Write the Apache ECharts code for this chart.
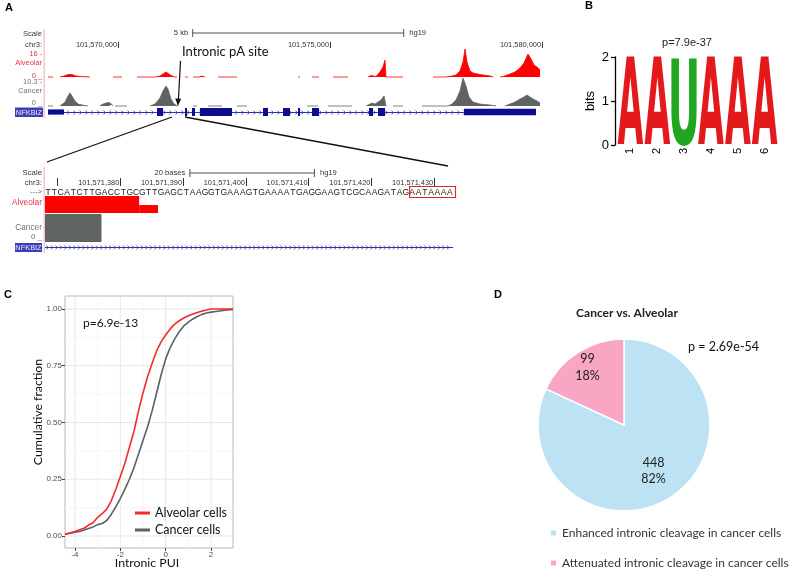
<!DOCTYPE html>
<html><head><meta charset="utf-8">
<script src="https://cdn.jsdelivr.net/npm/echarts@6/dist/echarts.min.js"></script>
<style>html,body{margin:0;padding:0;background:#fff}#c{width:792px;height:571px}</style>
</head><body><div id="c"></div>
<script>
// ===== Panel A (top): signal tracks, positions in kb relative to chr3:101,570,000 =====
const topOrigin = 101570000;
const topTickKb = [0, 5, 10];
const topMinKb = -1.7217, topMaxKb = 10.0;
const scaleBarTop = [1.75, 6.75];           // 5 kb
const alveolarTrack = [
 [[-1.651,0],[-1.533,0]],
 [[-1.368,0],[-1.274,0.7],[-1.179,1.7],[-1.132,2.1],[-1.085,1.7],[-0.991,0.7],[-0.896,0.35],[-0.660,0]],
 [[-0.118,0],[0.094,0]],
 [[0.448,0],[0.873,0],[0.991,0.7],[1.061,2.1],[1.132,3.5],[1.179,2.8],[1.250,1.0],[1.344,0],[1.392,0]],
 [[1.580,0],[1.651,0]],
 [[1.769,0],[1.910,0],[1.981,0.7],[2.052,0]],
 [[2.359,0],[2.807,0]],
 [[4.245,0],[4.292,0]],
 [[4.575,0],[4.741,0]],
 [[5.071,0],[5.424,0]],
 [[5.896,0],[5.967,1.0],[6.014,0.7],[6.085,0.35],[6.132,1.4],[6.179,3.5],[6.250,7],[6.297,11.8],[6.321,0],[6.722,0]],
 [[7.429,0],[7.712,0],[7.830,0.35],[7.972,1.4],[8.066,4.2],[8.137,10.4],[8.184,19.5],[8.231,10.4],[8.302,4.2],[8.373,2.8],[8.538,1.7],[8.774,0.7],[8.845,0]],
 [[9.009,0],[9.080,0.3],[9.245,2.1],[9.363,3.5],[9.481,6.3],[9.575,9.7],[9.670,16],[9.741,12.5],[9.811,8.4],[9.882,7],[9.953,4.9]]
];
const cancerTrack = [
 [[-1.651,0],[-1.533,0]],
 [[-1.368,0],[-1.321,0.4],[-1.250,1.6],[-1.179,4.1],[-1.132,5.4],[-1.085,4.1],[-1.014,2.1],[-0.943,0.8],[-0.849,0.4],[-0.708,0]],
 [[-0.425,0],[-0.377,0.6],[-0.283,1.2],[-0.212,1.4],[-0.142,0.6],[-0.118,0]],
 [[-0.071,0],[0.212,0]],
 [[0.755,0],[0.873,0.8],[0.991,3.3],[1.061,6.2],[1.132,8.2],[1.179,7.0],[1.250,2.9],[1.321,0.8],[1.415,0]],
 [[1.769,0],[1.863,0]],
 [[2.123,0],[2.453,0]],
 [[2.807,0],[3.042,0]],
 [[4.458,0],[4.717,0]],
 [[4.953,0],[5.519,0]],
 [[5.849,0],[5.943,0.8],[5.991,1.2],[6.061,0.8],[6.132,1.6],[6.203,2.5],[6.274,4.1],[6.297,4.9],[6.321,0]],
 [[6.486,0],[6.722,0]],
 [[7.170,0],[7.783,0],[7.877,0.8],[7.972,2.5],[8.066,6.2],[8.137,11.5],[8.208,8.2],[8.278,3.7],[8.373,1.6],[8.538,0.8],[8.774,0.4],[8.915,0]],
 [[9.127,0],[9.245,0.8],[9.363,1.6],[9.481,2.9],[9.575,3.7],[9.646,4.5],[9.717,3.7],[9.788,2.9],[9.882,2.1],[9.953,1.2]]
];
const geneSpan = [-1.651, 9.858];
// [start, end, thickness (1 = coding, <1 = UTR)]
const geneExons = [[-1.651,-1.274,0.65],[0.920,1.061,1],[1.580,1.627,1],[1.745,1.816,1],[1.934,2.689,1],[3.420,3.538,1],[3.892,4.057,1],[4.245,4.292,1],[4.575,4.741,1],[5.920,6.014,1],[6.132,6.297,1],[8.160,9.858,0.8]];

// ===== Panel A (zoom): base-level view =====
const zoomMin = 101571368, zoomMax = 101571433;
const zoomSeq = 'TTCATCTTGACCTGCGTTGAGCTAAGGTGAAAGTGAAAATGAGGAAGTCGCAAGATAGAATAAAA';
const zoomTicks = [101571370,101571380,101571390,101571400,101571410,101571420,101571430];
const zoomTickLabels = [101571380,101571390,101571400,101571410,101571420,101571430];
const scaleBarZoom = [101571391, 101571411];   // 20 bases
const alveolarZoom = [[101571368,101571383,16],[101571383,101571386,7.5]];
const cancerZoom = [[101571368,101571377,10]];
const polyABox = [[101571426, 101571433]];

// ===== Panel B: sequence logo =====
const logoPositions = ['1','2','3','4','5','6'];
const logoLetters = ['A','A','U','A','A','A'];
const logoBits = [2,2,2,2,2,2];

// ===== Panel C: cumulative distributions =====
const cdfAlveolar = [[-4.44,0.008],[-4.2,0.014],[-4.0,0.02],[-3.8,0.027],[-3.6,0.034],[-3.4,0.048],[-3.2,0.058],[-3.0,0.082],[-2.8,0.098],[-2.6,0.118],[-2.4,0.155],[-2.2,0.205],[-2.0,0.262],[-1.8,0.32],[-1.6,0.39],[-1.4,0.46],[-1.2,0.55],[-1.0,0.63],[-0.8,0.70],[-0.6,0.76],[-0.4,0.815],[-0.2,0.855],[0.0,0.885],[0.2,0.912],[0.4,0.933],[0.6,0.948],[0.8,0.96],[1.0,0.97],[1.2,0.978],[1.5,0.988],[1.8,0.995],[2.0,1.0],[2.97,1.0]];
const cdfCancer = [[-4.44,0.008],[-4.2,0.012],[-4.0,0.016],[-3.8,0.02],[-3.6,0.026],[-3.4,0.033],[-3.2,0.04],[-3.0,0.05],[-2.8,0.055],[-2.6,0.068],[-2.4,0.095],[-2.2,0.128],[-2.0,0.165],[-1.8,0.205],[-1.6,0.25],[-1.4,0.30],[-1.2,0.36],[-1.0,0.42],[-0.8,0.48],[-0.6,0.55],[-0.4,0.63],[-0.2,0.71],[0.0,0.78],[0.2,0.83],[0.4,0.868],[0.6,0.9],[0.8,0.925],[1.0,0.942],[1.2,0.956],[1.4,0.967],[1.6,0.976],[1.8,0.982],[2.0,0.986],[2.3,0.99],[2.6,0.994],[2.97,0.998]];
const cdfSeriesNames = ['Alveolar cells','Cancer cells'];
const cdfXTicks = [-4,-2,0,2], cdfXMinor = [-3,-1,1];
const cdfYTicks = [0,0.25,0.5,0.75,1], cdfYMinor = [0.125,0.375,0.625,0.875];

// ===== Panel D: pie =====
const pieCategories = ['Enhanced intronic cleavage in cancer cells','Attenuated intronic cleavage in cancer cells'];
const pieCounts = [448, 99];
const piePercents = ['82%','18%'];

// ---------------------------------------------------------------
const SANS = '"Liberation Sans", Arial, sans-serif';
const LATO = 'Lato, "Open Sans", sans-serif';
const RED = '#ff0000', GRAY = '#5f6462', GENE = '#0d0d8f', GENE_LINE = '#3030b0';
const ALV_LABEL = '#e8304a', CAN_LABEL = '#707070';

function flat(segs){ const out=[]; segs.forEach(s=>{ s.forEach(p=>out.push(p)); out.push([s[s.length-1][0]+0.0001, null]); }); return out; }

function T(text, x, y, o){ o=o||{};
  const al=o.align||'left', va=o.va||'middle';
  const el = {type:'text', silent:true, z:50, style:{text, x, y, font:o.font||((o.size||8)+'px '+(o.family||SANS)), fill:o.fill||'#333', align:al, textAlign:al, verticalAlign:va, textVerticalAlign:va}};
  if (o.rot) { el.x = x; el.y = y; el.rotation = o.rot; el.style.x = 0; el.style.y = 0; }
  return el;
}
function Lp(x1,y1,x2,y2,st){ return {type:'line', silent:true, z:40, shape:{x1,y1,x2,y2}, style:Object.assign({stroke:'#111', lineWidth:1.3}, st||{})}; }

// glyph metrics for logo letters
const LOGO_FONT = 'bold 100px "DejaVu Sans", "Liberation Sans", sans-serif';
const mctx = document.createElement('canvas').getContext('2d');
mctx.font = LOGO_FONT; mctx.textAlign='center'; mctx.textBaseline='middle';
function glyphBox(ch){ const m = mctx.measureText(ch); return {l:m.actualBoundingBoxLeft, r:m.actualBoundingBoxRight, a:m.actualBoundingBoxAscent, d:m.actualBoundingBoxDescent}; }
const logoColor = {A:'#e3191c', U:'#21a621', C:'#1f3fd0', G:'#f0a000'};

function scaleBarRender(yPix, leftLabel, rightLabel, fontPx){
  return function(params, api){
    const a = api.coord([api.value(0), 0])[0], b = api.coord([api.value(1), 0])[0];
    const st = {stroke:'#555', lineWidth:1};
    const f = fontPx+'px '+SANS;
    return {type:'group', children:[
      {type:'line', shape:{x1:a,y1:yPix,x2:b,y2:yPix}, style:st},
      {type:'line', shape:{x1:a+0.5,y1:yPix-4,x2:a+0.5,y2:yPix+4}, style:st},
      {type:'line', shape:{x1:b-0.5,y1:yPix-4,x2:b-0.5,y2:yPix+4}, style:st},
      {type:'text', style:{text:leftLabel, x:a-4, y:yPix, align:'right', textAlign:'right', verticalAlign:'middle', textVerticalAlign:'middle', font:f, fill:'#333'}},
      {type:'text', style:{text:rightLabel, x:b+5, y:yPix, align:'left', textAlign:'left', verticalAlign:'middle', textVerticalAlign:'middle', font:f, fill:'#333'}}
    ]};
  };
}
function intronRender(spacing){
  return function(params, api){
    const s = api.coord([api.value(0), 0.5]), e = api.coord([api.value(1), 0.5]);
    const y = Math.round(s[1])+0.5;
    const ch = [{type:'line', shape:{x1:s[0],y1:y,x2:e[0],y2:y}, style:{stroke:GENE_LINE, lineWidth:1}}];
    for (let x = s[0]+3; x < e[0]-1; x += spacing) {
      ch.push({type:'polyline', shape:{points:[[x-1.6,y-2],[x+0.4,y],[x-1.6,y+2]]}, style:{stroke:GENE_LINE, fill:null, lineWidth:0.8}});
    }
    return {type:'group', children:ch};
  };
}
function barRender(fill){
  return function(params, api){
    const a = api.coord([api.value(0), api.value(2)]), b = api.coord([api.value(1), 0]);
    return {type:'rect', shape:{x:a[0], y:a[1], width:b[0]-a[0], height:b[1]-a[1]}, style:{fill}};
  };
}

const gridBase = {outerBoundsMode:'none', containLabel:false};
const grids = [
 {left:45, top:54, width:497, height:23},
 {left:45, top:81, width:497, height:25},
 {left:45, top:108, width:497, height:8},
 {left:45, top:196, width:408, height:17},
 {left:45, top:214, width:408, height:28},
 {left:45, top:243, width:408, height:8},
 {left:45, top:186, width:408, height:12},
 {left:617, top:57, width:161, height:88},
 {left:65, top:296, width:168, height:252, show:true, borderColor:'#b8b8b8', borderWidth:1, backgroundColor:'#fff'}
].map(g=>Object.assign({}, gridBase, g));

const hiddenX = (i, min, max) => ({gridIndex:i, type:'value', min, max, show:false});
const hiddenY = (i, min, max) => ({gridIndex:i, type:'value', min, max, show:false});

const option = {
 animation:false,
 backgroundColor:'#fff',
 grid: grids,
 xAxis: [
  {gridIndex:0, type:'value', min:topMinKb, max:topMaxKb, position:'top', offset:6,
   axisLine:{show:false, onZero:false}, splitLine:{show:false},
   axisTick:{show:true, customValues:topTickKb, length:6, lineStyle:{color:'#333', width:1}},
   axisLabel:{show:true, customValues:topTickKb, formatter:v=>Math.round(topOrigin+v*1000).toLocaleString('en-US'),
     fontFamily:SANS, fontSize:7.4, color:'#333', align:'right', verticalAlign:'middle', margin:3, padding:[0,1,0,0]}},
  hiddenX(1, topMinKb, topMaxKb),
  hiddenX(2, topMinKb, topMaxKb),
  hiddenX(3, zoomMin, zoomMax),
  hiddenX(4, zoomMin, zoomMax),
  hiddenX(5, zoomMin, zoomMax),
  {gridIndex:6, type:'value', min:zoomMin, max:zoomMax, position:'top',
   axisLine:{show:false, onZero:false}, splitLine:{show:false},
   axisTick:{show:true, customValues:zoomTicks, length:8, lineStyle:{color:'#333', width:1}},
   axisLabel:{show:true, customValues:zoomTickLabels, formatter:v=>Math.round(v).toLocaleString('en-US'),
     fontFamily:SANS, fontSize:7.4, color:'#333', align:'right', verticalAlign:'middle', margin:3, padding:[0,1,0,0]}},
  {gridIndex:7, type:'category', data:logoPositions, boundaryGap:true,
   axisLine:{show:false, onZero:false}, axisTick:{show:false}, splitLine:{show:false},
   axisLabel:{rotate:90, fontFamily:SANS, fontSize:11, color:'#000', margin:3}},
  {gridIndex:8, type:'value', min:-4.44, max:2.97,
   axisLine:{show:false, onZero:false}, splitLine:{show:false},
   axisTick:{show:true, customValues:cdfXTicks, length:3, lineStyle:{color:'#444'}},
   axisLabel:{show:true, customValues:cdfXTicks, fontFamily:SANS, fontSize:8, color:'#4d4d4d', margin:3}}
 ],
 yAxis: [
  hiddenY(0, 0, 16), hiddenY(1, 0, 10.3), hiddenY(2, 0, 1), hiddenY(3, 0, 16), hiddenY(4, 0, 10), hiddenY(5, 0, 1), hiddenY(6, 0, 1),
  {gridIndex:7, type:'value', min:0, max:2, interval:1, offset:2,
   axisLine:{show:true, onZero:false, lineStyle:{color:'#000', width:1.3}}, splitLine:{show:false},
   axisTick:{show:true, length:4, lineStyle:{color:'#000', width:1.3}},
   axisLabel:{fontFamily:SANS, fontSize:13, color:'#000', margin:6},
   name:'bits', nameLocation:'middle', nameGap:18, nameRotate:90,
   nameTextStyle:{fontFamily:SANS, fontSize:13, color:'#000'}},
  {gridIndex:8, type:'value', min:-0.053, max:1.057,
   axisLine:{show:false, onZero:false}, splitLine:{show:false},
   axisTick:{show:true, customValues:cdfYTicks, length:3, lineStyle:{color:'#444'}},
   axisLabel:{show:true, customValues:cdfYTicks, formatter:v=>v.toFixed(2), fontFamily:SANS, fontSize:8, color:'#4d4d4d', margin:3}}
 ],
 legend: [
  {data:cdfSeriesNames, left:135, top:506, orient:'vertical', icon:'rect', itemWidth:15, itemHeight:3, itemGap:3, padding:0,
   selectedMode:false, textStyle:{fontFamily:LATO, fontSize:12.5, color:'#111', lineHeight:14}},
  {data:pieCategories, left:549, top:526, orient:'vertical', icon:'rect', itemWidth:7, itemHeight:7, itemGap:16, padding:0,
   selectedMode:false, textStyle:{fontFamily:LATO, fontSize:12, color:'#333', lineHeight:14}}
 ],
 series: [
  {type:'line', name:'alv-top', xAxisIndex:0, yAxisIndex:0, data:flat(alveolarTrack), symbol:'none', clip:false, silent:true, connectNulls:false,
   lineStyle:{width:0.8, color:RED}, areaStyle:{color:RED, opacity:1}, z:3},
  {type:'line', name:'can-top', xAxisIndex:1, yAxisIndex:1, data:flat(cancerTrack), symbol:'none', clip:false, silent:true, connectNulls:false,
   lineStyle:{width:0.8, color:GRAY}, areaStyle:{color:GRAY, opacity:1}, z:3},
  {type:'custom', xAxisIndex:2, yAxisIndex:2, data:[geneSpan], renderItem:intronRender(6), silent:true, z:3},
  {type:'custom', xAxisIndex:2, yAxisIndex:2, data:geneExons, silent:true, z:4,
   renderItem:function(params, api){
     const h = api.value(2);
     const a = api.coord([api.value(0), 0.5+h/2]), b = api.coord([api.value(1), 0.5-h/2]);
     return {type:'rect', shape:{x:a[0], y:a[1], width:Math.max(1.5,b[0]-a[0]), height:b[1]-a[1]}, style:{fill:GENE}};
   }},
  {type:'custom', xAxisIndex:0, yAxisIndex:0, data:[scaleBarTop], renderItem:scaleBarRender(33, '5 kb', 'hg19', 7.6), silent:true, z:5},
  {type:'custom', xAxisIndex:3, yAxisIndex:3, data:alveolarZoom, renderItem:barRender(RED), silent:true},
  {type:'custom', xAxisIndex:4, yAxisIndex:4, data:cancerZoom, renderItem:barRender(GRAY), silent:true},
  {type:'custom', xAxisIndex:5, yAxisIndex:5, data:[[zoomMin, zoomMax]], renderItem:intronRender(4.5), silent:true},
  {type:'custom', xAxisIndex:6, yAxisIndex:6, silent:true,
   data:zoomSeq.split('').map((ch,i)=>[zoomMin+i+0.5, 0.5, i]),
   renderItem:function(params, api){
     const c = api.coord([api.value(0), api.value(1)]);
     return {type:'text', style:{text:zoomSeq[api.value(2)], x:c[0], y:c[1]+0.5, align:'center', textAlign:'center', verticalAlign:'middle', textVerticalAlign:'middle', font:'8.5px '+SANS, fill:'#222'}};
   }},
  {type:'custom', xAxisIndex:6, yAxisIndex:6, data:polyABox, silent:true,
   renderItem:function(params, api){
     const a = api.coord([api.value(0), 1]), b = api.coord([api.value(1), 0]);
     return {type:'rect', shape:{x:a[0]+0.5, y:a[1]+0.5, width:b[0]-a[0]+2, height:b[1]-a[1]-1}, style:{fill:null, stroke:'#d42a2a', lineWidth:1.2}};
   }},
  {type:'custom', xAxisIndex:6, yAxisIndex:6, data:[scaleBarZoom], renderItem:scaleBarRender(173, '20 bases', 'hg19', 7.6), silent:true},
  {type:'custom', xAxisIndex:7, yAxisIndex:7, silent:true, data:logoBits.map((b,i)=>[i,b]),
   renderItem:function(params, api){
     const letter = logoLetters[params.dataIndex];
     const c0 = api.coord([api.value(0), 0]), c1 = api.coord([api.value(0), api.value(1)]);
     const bw = api.size([1,0])[0];
     const x0 = c0[0]-bw/2+0.6, x1 = c0[0]+bw/2-0.6, y0 = c1[1], y1 = c0[1];
     const g = glyphBox(letter);
     const sx = (x1-x0)/(g.l+g.r), sy = (y1-y0)/(g.a+g.d);
     return {type:'text', x:x0+g.l*sx, y:y0+g.a*sy, scaleX:sx, scaleY:sy,
       style:{text:letter, x:0, y:0, align:'center', textAlign:'center', verticalAlign:'middle', textVerticalAlign:'middle', font:LOGO_FONT, fill:logoColor[letter]}};
   }},
  {type:'custom', xAxisIndex:8, yAxisIndex:8, silent:true, z:1,
   data:[].concat(cdfXTicks.map(v=>[v,0,1]), cdfXMinor.map(v=>[v,0,0]), cdfYTicks.map(v=>[v,1,1]), cdfYMinor.map(v=>[v,1,0])),
   renderItem:function(params, api){
     const cs = params.coordSys, v = api.value(0), dir = api.value(1), major = api.value(2);
     const st = {stroke: major ? '#e4e4e4' : '#f2f2f2', lineWidth: major ? 0.9 : 0.7};
     if (dir === 0) { const x = api.coord([v, 0])[0]; return {type:'line', shape:{x1:x,y1:cs.y,x2:x,y2:cs.y+cs.height}, style:st}; }
     const y = api.coord([0, v])[1]; return {type:'line', shape:{x1:cs.x,y1:y,x2:cs.x+cs.width,y2:y}, style:st};
   }},
  {type:'line', name:cdfSeriesNames[0], xAxisIndex:8, yAxisIndex:8, data:cdfAlveolar, symbol:'none', silent:true, z:3,
   lineStyle:{width:1.6, color:'#f42a2a'}, itemStyle:{color:'#f42a2a'}},
  {type:'line', name:cdfSeriesNames[1], xAxisIndex:8, yAxisIndex:8, data:cdfCancer, symbol:'none', silent:true, z:2,
   lineStyle:{width:1.6, color:'#596163'}, itemStyle:{color:'#596163'}},
  {type:'pie', center:[624,425], radius:86, startAngle:90, clockwise:true, silent:true,
   label:{show:false}, labelLine:{show:false}, emphasis:{disabled:true},
   itemStyle:{borderColor:'#fff', borderWidth:1.5},
   data:[{name:pieCategories[0], value:pieCounts[0], itemStyle:{color:'#bce2f4'}},
         {name:pieCategories[1], value:pieCounts[1], itemStyle:{color:'#f9a6c4'}}]},
  {type:'pie', center:[624,425], radius:[0,104], startAngle:90, clockwise:true, silent:true, z:5,
   itemStyle:{color:'rgba(0,0,0,0)'}, labelLine:{show:false}, emphasis:{disabled:true},
   label:{show:true, position:'inside', formatter:p=>pieCounts[p.dataIndex]+'\n'+piePercents[p.dataIndex], fontFamily:LATO, fontSize:12.5, color:'#222', lineHeight:16},
   data:[{name:'lbl-e', value:pieCounts[0]}, {name:'lbl-e2', value:pieCounts[1], label:{show:false}}]},
  {type:'pie', center:[624,425], radius:[0,130], startAngle:90, clockwise:true, silent:true, z:5,
   itemStyle:{color:'rgba(0,0,0,0)'}, labelLine:{show:false}, emphasis:{disabled:true},
   label:{show:true, position:'inside', formatter:p=>pieCounts[p.dataIndex]+'\n'+piePercents[p.dataIndex], fontFamily:LATO, fontSize:12.5, color:'#222', lineHeight:17},
   data:[{name:'lbl-a2', value:pieCounts[0], label:{show:false}}, {name:'lbl-a', value:pieCounts[1]}]}
 ],
 graphic: [
  // panel letters
  T('A', 5, 8, {font:'bold 11px '+SANS, fill:'#000'}),
  T('B', 585, 6, {font:'bold 11px '+SANS, fill:'#000'}),
  T('C', 4, 295, {font:'bold 11px '+SANS, fill:'#000'}),
  T('D', 494, 295, {font:'bold 11px '+SANS, fill:'#000'}),
  // left label column (top)
  T('Scale', 42, 34, {align:'right', size:7.6}),
  T('chr3:', 42, 45, {align:'right', size:7.6}),
  T('16 -', 42, 54, {align:'right', size:7.4, fill:ALV_LABEL}),
  T('Alveolar', 42, 63, {align:'right', size:7.4, fill:ALV_LABEL}),
  T('0 _', 42, 75.5, {align:'right', size:7.4, fill:ALV_LABEL}),
  T('10.3 -', 42, 82, {align:'right', size:7.4, fill:CAN_LABEL}),
  T('Cancer', 42, 91, {align:'right', size:7.4, fill:CAN_LABEL}),
  T('0 _', 42, 103, {align:'right', size:7.4, fill:CAN_LABEL}),
  {type:'rect', silent:true, z:40, shape:{x:15, y:107.5, width:28, height:9.5}, style:{fill:'#3d3db6'}},
  T('NFKBIZ', 29, 112.5, {align:'center', size:7.4, fill:'#e8e8ff'}),
  {type:'rect', silent:true, z:40, shape:{x:43.5, y:29, width:1.5, height:89}, style:{fill:'#f8c4cf'}},
  // left label column (zoom)
  T('Scale', 42, 173, {align:'right', size:7.8}),
  T('chr3:', 42, 183, {align:'right', size:7.8}),
  T('--->', 42, 192, {align:'right', size:7.4, fill:'#555'}),
  T('Alveolar', 42, 203, {align:'right', size:8.3, fill:ALV_LABEL}),
  T('Cancer', 42, 228, {align:'right', size:8.3, fill:CAN_LABEL}),
  T('0 _', 42, 237, {align:'right', size:8, fill:CAN_LABEL}),
  {type:'rect', silent:true, z:40, shape:{x:15, y:243, width:27, height:9}, style:{fill:'#3d3db6'}},
  T('NFKBIZ', 28.5, 247.7, {align:'center', size:7.4, fill:'#e8e8ff'}),
  {type:'rect', silent:true, z:40, shape:{x:43.5, y:167, width:1.5, height:86}, style:{fill:'#f8c4cf'}},
  // annotation
  T('Intronic pA site', 182, 52, {size:13, family:LATO, fill:'#111'}),
  Lp(180.5, 61, 178.4, 100, {lineWidth:1.2}),
  {type:'polygon', silent:true, z:40, shape:{points:[[178,106],[175.2,98.5],[181.2,98.8]]}, style:{fill:'#111'}},
  Lp(172, 117, 47, 162),
  Lp(185, 117, 448, 166),
  // panel B/C/D texts
  T('p=7.9e-37', 687, 43, {align:'center', size:11, fill:'#222'}),
  T('p=6.9e-13', 83, 323, {size:12, family:LATO, fill:'#111'}),
  T('Cumulative fraction', 38, 412, {align:'center', size:12.3, family:LATO, fill:'#111', rot:Math.PI/2}),
  T('Intronic PUI', 147, 563, {align:'center', size:12.3, family:LATO, fill:'#111'}),
  T('Cancer vs. Alveolar', 627, 313, {align:'center', font:'bold 12px '+LATO, fill:'#222'}),
  T('p = 2.69e-54', 688, 347, {size:12.5, family:LATO, fill:'#111'})
 ]
};
const chart = echarts.init(document.getElementById('c'));
chart.setOption(option);
</script>
</body></html>
